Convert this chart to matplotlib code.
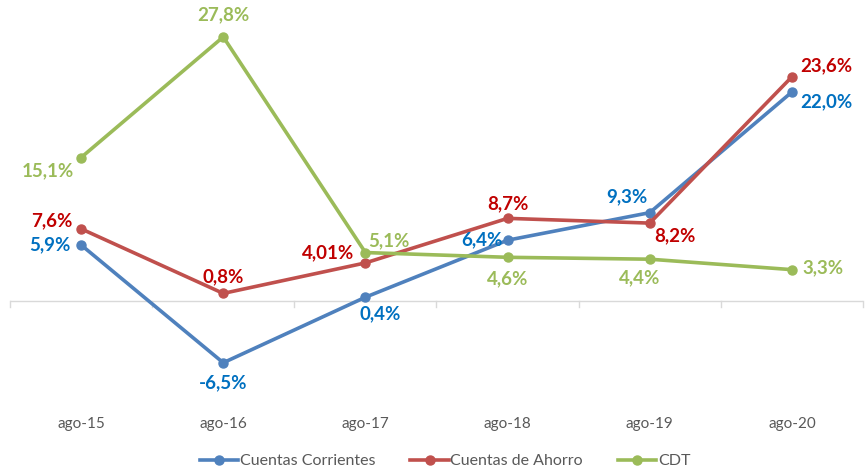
import matplotlib.pyplot as plt
from matplotlib.lines import Line2D

plt.rcParams['font.family'] = ['Lato', 'DejaVu Sans']

categorias = ['ago-15', 'ago-16', 'ago-17', 'ago-18', 'ago-19', 'ago-20']
corrientes = [5.9, -6.5, 0.4, 6.4, 9.3, 22.0]
ahorro = [7.6, 0.8, 4.01, 8.7, 8.2, 23.6]
cdt = [15.1, 27.8, 5.1, 4.6, 4.4, 3.3]

etq_corrientes = ['5,9%', '-6,5%', '0,4%', '6,4%', '9,3%', '22,0%']
etq_ahorro = ['7,6%', '0,8%', '4,01%', '8,7%', '8,2%', '23,6%']
etq_cdt = ['15,1%', '27,8%', '5,1%', '4,6%', '4,4%', '3,3%']

# desplazamientos de las etiquetas (pixeles)
off_corrientes = [(-31, 0), (0, -20), (15, -17), (-26, 0), (-23, 16), (34, -10)]
off_ahorro = [(-29, 8), (0, 17), (-37, 10), (0, 15), (25, -13), (34, 11)]
off_cdt = [(-33, -13), (0, 22), (23, 12), (0, -21), (-10, -19), (31, 2)]

series = [
    ('Cuentas Corrientes', corrientes, etq_corrientes, off_corrientes, '#4F81BD', '#0070C0'),
    ('Cuentas de Ahorro', ahorro, etq_ahorro, off_ahorro, '#C0504D', '#C00000'),
    ('CDT', cdt, etq_cdt, off_cdt, '#9BBB59', '#9BBB59'),
]

fig = plt.figure(figsize=(8.66, 4.70), dpi=100)
ax = fig.add_axes([10 / 866, 1 - 396 / 470, 853 / 866, 380 / 470])
x = list(range(len(categorias)))

for nombre, vals, etqs, offs, col, col_txt in series:
    ax.plot(x, vals, color=col, lw=2.6, marker='o', ms=6.5, label=nombre,
            solid_capstyle='round', zorder=3)
    for xi, v, t, (dx, dy) in zip(x, vals, etqs, offs):
        ax.annotate(t, (xi, v), xytext=(dx, dy), textcoords='offset pixels',
                    ha='center', va='center', fontsize=13.5, fontweight='bold',
                    color=col_txt, zorder=4)

ax.set_xlim(-0.5, len(categorias) - 0.5)
ax.set_ylim(-10, 30)
for s in ax.spines.values():
    s.set_visible(False)
ax.set_yticks([])
ax.set_xticks([])
ax.axhline(0, color='#D9D9D9', lw=1, zorder=1)
for b in range(len(categorias) + 1):
    ax.plot([b - 0.5, b - 0.5], [0, -0.6], color='#D9D9D9', lw=1, zorder=1,
            clip_on=False)
for xi, c in zip(x, categorias):
    ax.text(xi, -12.9, c, ha='center', va='center', fontsize=11, color='#595959')

handles = [Line2D([0], [0], color=col, lw=2.6, marker='o', ms=6.5)
           for _, _, _, _, col, _ in series]
leg = fig.legend(handles, [s[0] for s in series], loc='center',
                 bbox_to_anchor=(0.514, 1 - 461 / 470), ncol=3, frameon=False,
                 fontsize=11.5, handlelength=2.4, handletextpad=0.1, columnspacing=2.2)
for t in leg.get_texts():
    t.set_color('#595959')

fig.savefig('out.png', dpi=100)
